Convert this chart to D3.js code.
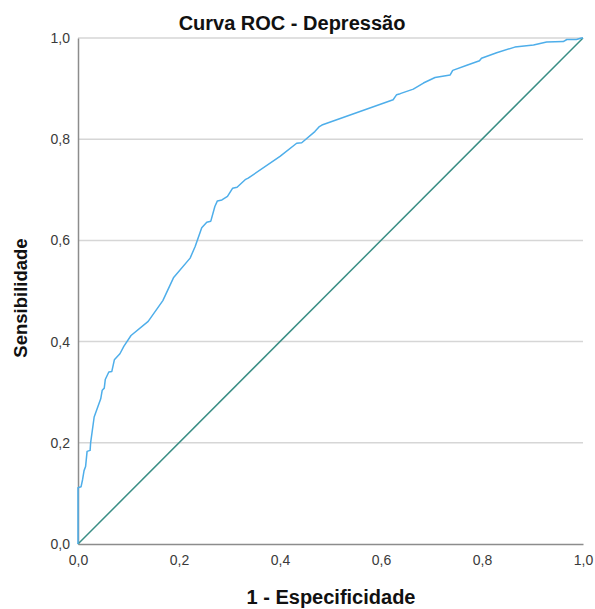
<!DOCTYPE html>
<html>
<head>
<meta charset="utf-8">
<script src="https://cdn.jsdelivr.net/npm/d3@7"></script>
<style>
  body { margin: 0; background: #fff; }
  text { font-family: "Liberation Sans", Arial, sans-serif; }
</style>
</head>
<body>
<div id="chart"></div>
<script>
// ROC curve points (1 - specificity, sensitivity)
const fpr = [0, 0, 0.006, 0.009, 0.012, 0.015, 0.018, 0.024, 0.025, 0.032, 0.045, 0.048, 0.052, 0.054,
  0.061, 0.067, 0.072, 0.083, 0.091, 0.105, 0.139, 0.168, 0.189, 0.222, 0.232, 0.245, 0.255, 0.263,
  0.271, 0.276, 0.285, 0.296, 0.306, 0.315, 0.331, 0.337, 0.400, 0.433, 0.443, 0.469, 0.478, 0.483,
  0.624, 0.631, 0.638, 0.664, 0.684, 0.707, 0.737, 0.742, 0.770, 0.795, 0.799, 0.829, 0.865, 0.902,
  0.928, 0.961, 0.968, 0.987, 0.997, 1];
const tpr = [0, 0.111, 0.113, 0.127, 0.145, 0.153, 0.183, 0.185, 0.200, 0.251, 0.287, 0.304, 0.308, 0.325,
  0.340, 0.341, 0.364, 0.376, 0.391, 0.412, 0.440, 0.481, 0.526, 0.565, 0.588, 0.625, 0.636, 0.638,
  0.667, 0.678, 0.680, 0.687, 0.703, 0.705, 0.720, 0.723, 0.766, 0.792, 0.793, 0.815, 0.825, 0.828,
  0.878, 0.888, 0.890, 0.899, 0.911, 0.922, 0.927, 0.936, 0.946, 0.955, 0.960, 0.971, 0.982, 0.986,
  0.992, 0.993, 0.997, 0.997, 1.0, 1];
const refLine = [0, 1];
const ticks = [0, 0.2, 0.4, 0.6, 0.8, 1.0];

const title = "Curva ROC - Depressão";
const xTitle = "1 - Especificidade";
const yTitle = "Sensibilidade";

let W = 595, H = 609;
let margin = { top: 38, right: 12, bottom: 65, left: 78 };
let width = 583 - margin.left;
let height = 544 - margin.top;

let svg = d3.select("#chart").append("svg")
  .attr("width", W)
  .attr("height", H);

let g = svg.append("g")
  .attr("transform", "translate(" + margin.left + "," + margin.top + ")");

let x = d3.scaleLinear().domain([0, 1]).range([0, width]);
let y = d3.scaleLinear().domain([0, 1]).range([height, 0]);

let fmt = d => d3.format(".1f")(d).replace(".", ",");

// gridlines
g.append("g")
  .selectAll("line")
  .data(ticks.filter(d => d > 0))
  .enter()
  .append("line")
  .attr("x1", 0)
  .attr("x2", width)
  .attr("y1", d => y(d))
  .attr("y2", d => y(d))
  .attr("stroke", "#d6d6d6")
  .attr("stroke-width", 1.5);

// axes
let xAxis = g.append("g")
  .attr("transform", "translate(0," + height + ")")
  .call(d3.axisBottom(x).tickValues(ticks).tickFormat(fmt).tickSize(0).tickPadding(11));
let yAxis = g.append("g")
  .call(d3.axisLeft(y).tickValues(ticks).tickFormat(fmt).tickSize(0).tickPadding(8));

[xAxis, yAxis].forEach(a => {
  a.select(".domain").attr("stroke", "#8c8c8c").attr("stroke-width", 1.5);
  a.selectAll("text")
    .style("font-family", "'Liberation Sans', Arial, sans-serif")
    .style("font-size", "14px")
    .attr("fill", "#3a3a3a");
});

// reference diagonal
g.append("path")
  .datum(refLine)
  .attr("fill", "none")
  .attr("stroke", "#3a8e85")
  .attr("stroke-width", 1.5)
  .attr("d", d3.line().x(d => x(d)).y(d => y(d)));

// ROC curve
let pts = fpr.map((v, i) => [v, tpr[i]]);
g.append("path")
  .datum(pts)
  .attr("fill", "none")
  .attr("stroke", "#4eaeea")
  .attr("stroke-width", 1.5)
  .attr("stroke-linejoin", "round")
  .attr("d", d3.line().x(d => x(d[0])).y(d => y(d[1])));

// titles
svg.append("text")
  .attr("x", 292)
  .attr("y", 30)
  .attr("text-anchor", "middle")
  .style("font-size", "20px")
  .style("font-weight", "bold")
  .attr("fill", "#111")
  .text(title);

svg.append("text")
  .attr("x", 331)
  .attr("y", 604)
  .attr("text-anchor", "middle")
  .style("font-size", "20px")
  .style("font-weight", "bold")
  .attr("fill", "#111")
  .text(xTitle);

svg.append("text")
  .attr("transform", "translate(27,298) rotate(-90)")
  .attr("text-anchor", "middle")
  .style("font-size", "18.5px")
  .style("font-weight", "bold")
  .attr("fill", "#111")
  .text(yTitle);
</script>
</body>
</html>
